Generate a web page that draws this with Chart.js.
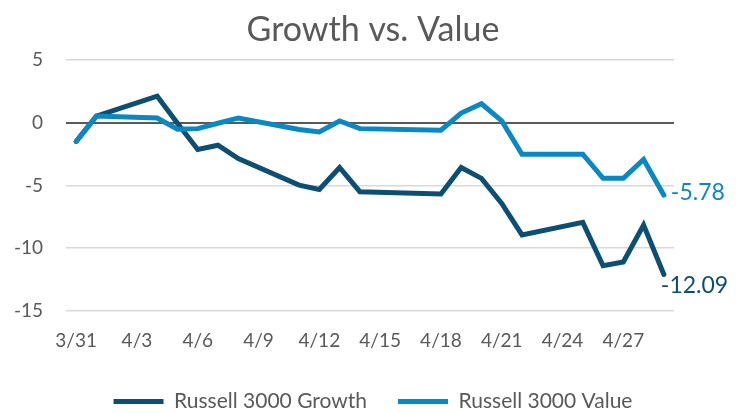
<!DOCTYPE html>
<html>
<head>
<meta charset="utf-8">
<script src="https://cdn.jsdelivr.net/npm/chart.js@4/dist/chart.umd.min.js"></script>
<style>
  html, body { margin: 0; padding: 0; background: #fff; }
  #wrap { width: 746px; height: 413px; }
</style>
</head>
<body>
<div id="wrap"><canvas id="chartGV"></canvas></div>
<script>
// days 3/31 .. 4/29, weekends and Good Friday have no data
const labels = ["3/31","4/1","4/2","4/3","4/4","4/5","4/6","4/7","4/8","4/9",
  "4/10","4/11","4/12","4/13","4/14","4/15","4/16","4/17","4/18","4/19",
  "4/20","4/21","4/22","4/23","4/24","4/25","4/26","4/27","4/28","4/29"];

const growth = [-1.5, 0.52, null, null, 2.1, -0.05, -2.14, -1.8, -2.86, null,
  null, -4.98, -5.32, -3.57, -5.5, null, null, null, -5.69, -3.57,
  -4.44, -6.43, -8.94, null, null, -7.94, -11.4, -11.1, -8.15, -12.09];

const value = [-1.5, 0.52, null, null, 0.37, -0.53, -0.48, -0.05, 0.37, null,
  null, -0.55, -0.74, 0.13, -0.48, null, null, null, -0.61, 0.76,
  1.5, 0.13, -2.52, null, null, -2.52, -4.44, -4.44, -2.94, -5.78];

const yTicks = [5, 0, -5, -10, -15];

const growthColor = "#0d4f72";
const valueColor = "#0b87c2";
const textColor = "#595959";
const fontFam = "Lato, 'Open Sans', sans-serif";

// end labels on the last point of each line
const endLabels = {
    id: "endLabels",
    afterDatasetsDraw(chart) {
        const ctx = chart.ctx;
        ctx.save();
        ctx.font = "23px " + fontFam;
        ctx.textBaseline = "middle";
        ctx.textAlign = "left";
        const offs = [[-3, 11], [7, -3]];
        chart.data.datasets.forEach((ds, i) => {
            const meta = chart.getDatasetMeta(i);
            const last = ds.data.length - 1;
            const pt = meta.data[last];
            ctx.fillStyle = ds.borderColor;
            ctx.fillText(ds.data[last].toFixed(2), pt.x + offs[i][0], pt.y + offs[i][1]);
        });
        ctx.restore();
    }
};

new Chart(document.getElementById("chartGV"), {
    type: "line",
    data: {
        labels: labels,
        datasets: [{
            label: "Russell 3000 Growth",
            data: growth,
            order: 1,
            borderColor: growthColor,
            backgroundColor: growthColor,
            borderWidth: 5,
            borderCapStyle: "round",
            borderJoinStyle: "miter",
            pointRadius: 0,
            tension: 0,
            spanGaps: true
        }, {
            label: "Russell 3000 Value",
            data: value,
            order: 0,
            borderColor: valueColor,
            backgroundColor: valueColor,
            borderWidth: 5,
            borderCapStyle: "round",
            borderJoinStyle: "miter",
            pointRadius: 0,
            tension: 0,
            spanGaps: true
        }]
    },
    options: {
        responsive: true,
        maintainAspectRatio: false,
        animation: false,
        layout: { padding: { top: 0, right: 0, bottom: -9, left: 0 } },
        plugins: {
            title: {
                display: true,
                text: "Growth vs. Value",
                color: textColor,
                font: { family: fontFam, size: 34, weight: "normal" },
                padding: { top: 10, bottom: 9 }
            },
            legend: {
                position: "bottom",
                labels: {
                    usePointStyle: true,
                    pointStyle: "line",
                    pointStyleWidth: 50,
                    color: textColor,
                    padding: 31,
                    font: { family: fontFam, size: 21 },
                    sort: (a, b) => a.datasetIndex - b.datasetIndex
                }
            },
            tooltip: { enabled: false }
        },
        scales: {
            x: {
                offset: true,
                afterFit: s => { s.height = 49; },
                grid: { display: false },
                border: { display: false },
                ticks: {
                    autoSkip: false,
                    maxRotation: 0,
                    color: textColor,
                    padding: 10,
                    font: { family: fontFam, size: 19 },
                    callback: (v, i) => (i % 3 === 0 ? labels[i] : "")
                }
            },
            y: {
                min: -15,
                max: 5,
                afterFit: s => { s.width = 66; },
                afterBuildTicks: s => { s.ticks = yTicks.map(v => ({ value: v })); },
                border: { display: false },
                grid: {
                    drawTicks: false,
                    color: c => (c.tick.value === 0 ? "#595959" : "#d9d9d9"),
                    lineWidth: c => (c.tick.value === 0 ? 2 : 1.5)
                },
                ticks: {
                    color: textColor,
                    padding: 23,
                    font: { family: fontFam, size: 19 }
                }
            },
            // empty right axis, only keeps room for the end labels
            yRight: {
                position: "right",
                min: -15,
                max: 5,
                afterFit: s => { s.width = 72; },
                grid: { display: false },
                border: { display: false },
                ticks: { display: false }
            }
        }
    },
    plugins: [endLabels]
});
</script>
</body>
</html>
